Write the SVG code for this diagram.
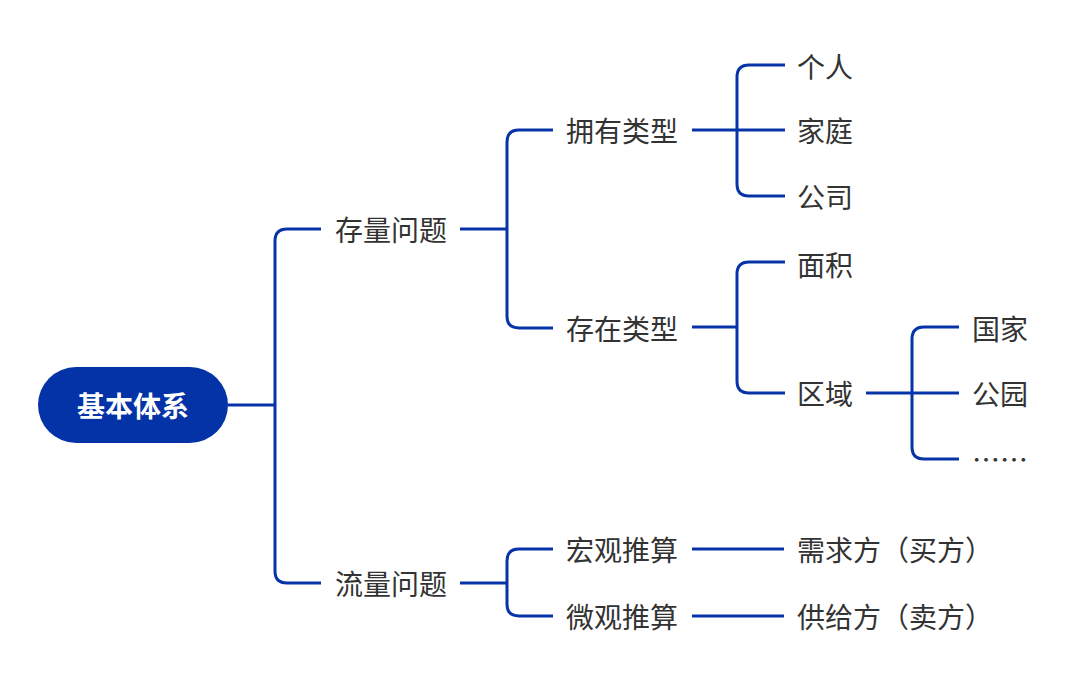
<svg xmlns="http://www.w3.org/2000/svg" width="1080" height="680" viewBox="0 0 1080 680">
<style>
.c{fill:none;stroke:#0634a8;stroke-width:3;stroke-linecap:butt}
.t{font-family:"Noto Sans CJK SC","Noto Sans",sans-serif;font-size:28px;fill:#333;dominant-baseline:central}
.r{font-family:"Noto Sans CJK SC","Noto Sans",sans-serif;font-size:28px;font-weight:bold;fill:#fff;dominant-baseline:central;text-anchor:middle}
</style>
<rect width="1080" height="680" fill="#fff"/>
<g id="connectors">
<path class="c" d="M228,405 H275"/>
<path class="c" d="M321,229 H287 Q275,229 275,241 V571 Q275,583 287,583 H321"/>
<path class="c" d="M460,229 H507"/>
<path class="c" d="M553,130 H519 Q507,130 507,142 V316 Q507,328 519,328 H553"/>
<path class="c" d="M692,130 H785"/>
<path class="c" d="M785,65 H749 Q737,65 737,77 V184 Q737,196 749,196 H785"/>
<path class="c" d="M692,327 H737"/>
<path class="c" d="M785,262 H749 Q737,262 737,274 V381 Q737,393 749,393 H785"/>
<path class="c" d="M866,393 H959"/>
<path class="c" d="M959,327 H924 Q912,327 912,339 V447 Q912,459 924,459 H959"/>
<path class="c" d="M460,583 H507"/>
<path class="c" d="M553,549 H519 Q507,549 507,561 V604 Q507,616 519,616 H553"/>
<path class="c" d="M692,549 H784"/>
<path class="c" d="M692,616 H784"/>
</g>
<g id="root"><rect x="38" y="367" width="190" height="76" rx="38" fill="#0333a6"/><text class="r" x="133" y="405">基本体系</text></g>
<g id="n-stock"><text class="t" x="335" y="229">存量问题</text></g>
<g id="n-flow"><text class="t" x="335" y="583">流量问题</text></g>
<g id="n-own"><text class="t" x="566" y="130">拥有类型</text></g>
<g id="n-exist"><text class="t" x="566" y="328">存在类型</text></g>
<g id="n-person"><text class="t" x="797" y="66">个人</text></g>
<g id="n-family"><text class="t" x="797" y="130">家庭</text></g>
<g id="n-company"><text class="t" x="797" y="196">公司</text></g>
<g id="n-area"><text class="t" x="797" y="264">面积</text></g>
<g id="n-region"><text class="t" x="797" y="393">区域</text></g>
<g id="n-country"><text class="t" x="972" y="328">国家</text></g>
<g id="n-park"><text class="t" x="972" y="393">公园</text></g>
<g id="n-etc"><text class="t" x="972" y="459">……</text></g>
<g id="n-macro"><text class="t" x="566" y="549">宏观推算</text></g>
<g id="n-micro"><text class="t" x="566" y="616">微观推算</text></g>
<g id="n-demand"><text class="t" x="797" y="549">需求方（买方）</text></g>
<g id="n-supply"><text class="t" x="797" y="616">供给方（卖方）</text></g>
</svg>
